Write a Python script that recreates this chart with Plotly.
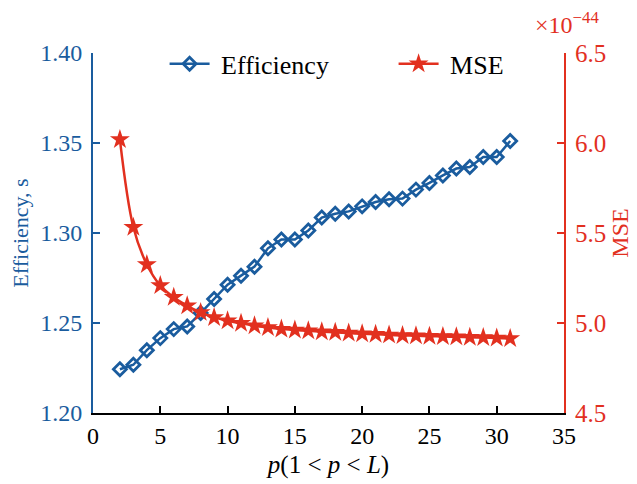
import plotly.graph_objects as go

p = list(range(2, 32))
efficiency = [1.2243, 1.2268, 1.2349, 1.2416, 1.2466, 1.2481, 1.2555, 1.2633, 1.2713, 1.2763,
              1.2813, 1.2915, 1.2964, 1.2964, 1.3014, 1.3086, 1.3107, 1.3120, 1.3148, 1.3172,
              1.3187, 1.3191, 1.3241, 1.3278, 1.3320, 1.3358, 1.3367, 1.3422, 1.3422, 1.3511]
mse = [6.019, 5.532, 5.325, 5.208, 5.143, 5.096, 5.059, 5.031, 5.013, 4.998,
       4.985, 4.975, 4.966, 4.961, 4.957, 4.952, 4.948, 4.944, 4.940, 4.937,
       4.934, 4.931, 4.929, 4.927, 4.925, 4.923, 4.921, 4.919, 4.917, 4.914]

x_ticks = [0, 5, 10, 15, 20, 25, 30, 35]
left_ticks = [1.20, 1.25, 1.30, 1.35, 1.40]
right_ticks = [4.5, 5.0, 5.5, 6.0, 6.5]

BLUE = "#1a5c9e"
RED = "#e2301f"
FONT = "Liberation Serif"

fig = go.Figure()
fig.add_trace(go.Scatter(
    x=p, y=efficiency, name="\u00a0Efficiency", mode="lines+markers",
    line=dict(color=BLUE, width=2.5),
    marker=dict(symbol="diamond-open", size=10, color=BLUE, line=dict(width=2.8, color=BLUE)),
))
fig.add_trace(go.Scatter(
    x=p, y=mse, name="\u00a0MSE", mode="lines+markers", yaxis="y2",
    line=dict(color=RED, width=2.5, shape="spline"),
    marker=dict(symbol="star", size=15, color=RED),
))

# page body has an 8px margin, so the figure is offset by (8, 8)
fig.update_layout(
    width=629, height=476,
    margin=dict(l=85, r=73, t=45, b=71, autoexpand=False),
    paper_bgcolor="white", plot_bgcolor="white",
    font=dict(family=FONT, size=22, color="black"),
    showlegend=True,
    legend=dict(orientation="h", x=0.152, y=1.035, xanchor="left", yanchor="top",
                font=dict(family=FONT, size=26), bgcolor="rgba(0,0,0,0)",
                entrywidth=174, entrywidthmode="pixels", itemwidth=40),
    xaxis=dict(range=[0, 35], tickvals=x_ticks, ticktext=[str(v) for v in x_ticks],
               ticks="inside", ticklen=7, tickwidth=1.5, tickcolor="black",
               showline=True, linecolor="black", linewidth=2, showgrid=False, zeroline=False,
               automargin=False,
               tickfont=dict(family=FONT, size=24, color="black"),
               title=dict(text="<i>p</i>(1 &lt; <i>p</i> &lt; <i>L</i>)",
                          font=dict(family=FONT, size=25, color="black"), standoff=8)),
    yaxis=dict(range=[1.20, 1.40], tickvals=left_ticks, ticktext=[f"{v:.2f}" for v in left_ticks],
               ticks="inside", ticklen=7, tickwidth=1.5, tickcolor=BLUE,
               showline=True, linecolor=BLUE, linewidth=2, showgrid=False, zeroline=False,
               automargin=False, ticklabelstandoff=4,
               tickfont=dict(family=FONT, size=24, color=BLUE),
               title=dict(text="Efficiency, s", font=dict(family=FONT, size=22, color=BLUE), standoff=8)),
    yaxis2=dict(range=[4.5, 6.5], tickvals=right_ticks, ticktext=[f"{v:.1f}" for v in right_ticks],
                overlaying="y", side="right", automargin=False, ticklabelstandoff=4,
                ticks="inside", ticklen=7, tickwidth=1.5, tickcolor=RED,
                showline=True, linecolor=RED, linewidth=2, showgrid=False, zeroline=False,
                tickfont=dict(family=FONT, size=25, color=RED),
                title=dict(text="MSE", font=dict(family=FONT, size=24, color=RED), standoff=6)),
    annotations=[dict(text="×10<sup>−44</sup>", xref="paper", yref="paper", x=0.934, y=1.0,
                      xanchor="left", yanchor="bottom", yshift=13, showarrow=False,
                      font=dict(family=FONT, size=24, color=RED))],
)

fig.write_html("out.html")
